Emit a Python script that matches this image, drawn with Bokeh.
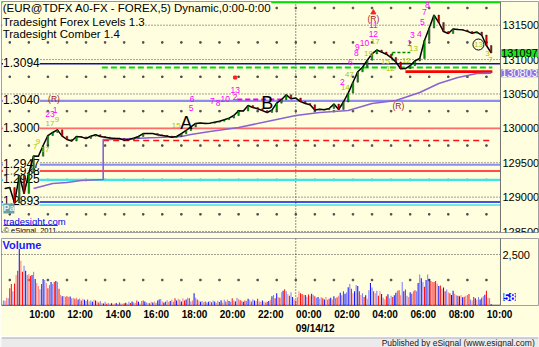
import numpy as np
from bokeh.plotting import figure
from bokeh.layouts import column
from bokeh.models import Range1d, FixedTicker, Span, Label, LinearAxis, CustomJSTickFormatter
from bokeh.embed import file_html
from bokeh.resources import INLINE
from bokeh.core.properties import value

BG = "#ffffe0"
FONT = "Liberation Sans"

# ---------------- axes (hours since 09/13/12 00:00; 24 = 09/14/12 00:00) ----------------
x_start = 8.567          # left edge of the chart panels
x_panel_end = 34.735     # right edge of the chart panels (price scale starts here)
x_view_end = 36.73       # right edge of the window
price_lo, price_hi = 1.284858, 1.318446
volume_hi = 3285
price_grid_levels = [1.285, 1.290, 1.295, 1.300, 1.305, 1.310, 1.315]
price_dot_levels = [1.2875, 1.2925, 1.2975, 1.3025, 1.3075, 1.3125, 1.3175]
volume_grid_levels = [2500]
volume_dot_levels = [1250]
dot_hours = list(range(9, 35))
hour_ticks = [10, 12, 14, 16, 18, 20, 22, 24, 26, 28, 30, 32, 34]
date_tick_hour = 24
date_text = "09/14/12"

# ---------------- price: 15-minute closes, 08:45 (09/13) .. 10:15 (09/14) ----------------
price_first_hour = 8.75
price_close = [
    1.29126, 1.29140, 1.28915, 1.29315, 1.29053, 1.29351, 1.29598, 1.29595,
    1.29751, 1.29896, 1.29940, 1.29978, 1.29887, 1.29838, 1.29816, 1.29882,
    1.29876, 1.29853, 1.29886, 1.29908, 1.29882, 1.29871, 1.29861, 1.29853,
    1.29853, 1.29829, 1.29838, 1.29857, 1.29882, 1.29925, 1.29925, 1.29925,
    1.29906, 1.29896, 1.29887, 1.29870, 1.29882, 1.29922, 1.29969, 1.30021,
    1.30071, 1.30078, 1.30071, 1.30076, 1.30090, 1.30104, 1.30126, 1.30149,
    1.30187, 1.30257, 1.30252, 1.30332, 1.30302, 1.30286, 1.30258, 1.30231,
    1.30266, 1.30366, 1.30417, 1.30488, 1.30431, 1.30441, 1.30389, 1.30361,
    1.30343, 1.30266, 1.30279, 1.30270, 1.30289, 1.30353, 1.30274, 1.30383,
    1.30513, 1.30671, 1.30822, 1.30888, 1.30991, 1.31083, 1.31139, 1.31109,
    1.31078, 1.31030, 1.30965, 1.30866, 1.30870, 1.30911, 1.30981, 1.31016,
    1.31277, 1.31459, 1.31647, 1.31539, 1.31408, 1.31379, 1.31445, 1.31437,
    1.31432, 1.31410, 1.31384, 1.31400, 1.31357, 1.31205, 1.31097,
]

# ---------------- purple (VWAP style) line ----------------
purple_hours = [10.25, 11.25, 12.0, 12.75, 13.9, 13.9, 14.25, 15.5, 16.75, 18.0, 18.5, 19.5,
                21.0, 22.75, 24.0, 25.25, 26.75, 28.0, 29.25, 30.5, 31.5, 32.5, 33.5, 34.25]
purple_values = [1.29126, 1.29199, 1.29213, 1.29242, 1.29257, 1.29838, 1.29838, 1.29853,
                 1.29867, 1.29882, 1.29911, 1.29954, 1.30013, 1.30114, 1.30187, 1.30231,
                 1.30260, 1.30362, 1.30405, 1.30521, 1.30652, 1.30739, 1.30797, 1.30803]

# ---------------- volume: 5-minute bars from 08:40 (09/13) ----------------
volume_first_hour = 8 + 40 / 60
volume_rows = [
    [250, 230, 380, 350, 850, 1050, 700, 1080, 1500, 1700],
    [2770, 2200, 1650, 1950, 1700, 1500, 1550, 1450, 1500, 1650, 1300, 1100],
    [950, 800, 1050, 1300, 1250, 1100, 850, 1000, 1150, 1050, 1150, 1200],
    [1150, 820, 520, 450, 470, 430, 450, 420, 440, 350, 380, 330],
    [380, 300, 340, 250, 330, 280, 220, 300, 200, 250, 180, 280],
    [250, 200, 150, 220, 120, 100, 180, 90, 120, 80, 110, 100],
    [90, 120, 70, 150, 100, 80, 110, 140, 90, 180, 120],
    [200, 150, 120, 240, 180, 100, 220, 250, 190, 150, 130, 110],
    [180, 150, 200, 130, 250, 300, 320, 200, 150, 180, 260, 170],
    [220, 300, 180, 350, 240, 330, 280, 200, 350, 250, 300, 380],
    [350, 200, 250, 600, 380, 300, 250, 180, 220, 160, 200, 150],
    [180, 220, 160, 250, 200, 140, 230, 170, 260, 150, 280, 200],
    [300, 220, 180, 350, 250, 200, 380, 320, 260, 230, 180],
    [250, 220, 330, 280, 200, 300, 250, 220, 330, 200, 180, 250],
    [200, 150, 180, 220, 280, 450, 520, 350, 600, 420, 380, 650],
    [720, 800, 700, 550, 480, 650, 420, 300, 250, 400, 700, 600],
    [560, 500, 520, 430, 540, 480, 580, 520, 450, 380, 420, 330],
    [400, 350, 300, 420, 280, 330, 380, 300, 450, 350, 400, 480],
    [620, 500, 700, 580, 650, 900, 1050, 820, 600, 700, 1000],
    [950, 700, 520, 600, 420, 500, 330, 750, 1100, 880, 700, 600],
    [720, 480, 700, 560, 380, 300, 450, 550, 350, 480, 420, 500],
    [620, 720, 750, 500, 1150, 700, 780, 480, 420, 650, 580, 700],
    [750, 700, 1100, 1520, 1330, 1150, 920, 1250, 1520, 1300, 1200, 1150],
    [1150, 1200, 1080, 950, 980, 820, 880, 700, 780, 650, 600, 520],
    [720, 580, 500, 480, 450, 520, 400, 430, 480, 520, 560],
    [300, 250, 420, 350, 280, 420, 300, 380, 450, 530, 720, 380],
    [350, 58],
]
# B = up (dark blue), b = up (light blue), R = down (red), r = down (light red)
volume_dir_rows = [
    "bbrbRRbRrR", "BrRbBbrRBbBr", "rbRBbrRbBbRB", "bRrBrbRrBbrR", "rBbRrBbRrbBr",
    "BrRbrBbRbrBr", "rBbRbrRBrbR", "BbrRBrbRBbrR", "rBrbRBbrBRbr", "BrbRBrbBrRBb",
    "RbrBbRrBbrRb", "BrRbBrbRBrbR", "rBbRrBbrRbB", "RbBrRbBrRbrB", "rbRBrBbRBrRr",
    "BRbrRbBrRbrR", "RrBbRrBbRbBr", "bRBrbRBrBbRr", "BbRBbBbRrBb", "BRrbRBrbBbRr",
    "bRrBbrRBrbRB", "BbRrbBRbrBRb", "RbBbBbRBbBRr", "RRrBRrBRbrRB", "BrbRBrBRrbR",
    "brRBrbBRbBRr", "bB",
]

# ---------------- Tradesight levels ----------------
full_levels = [1.31834, 1.3094, 1.3040, 1.3000, 1.2947, 1.2938, 1.2925, 1.2893, 1.28886]
full_colors = ["#00e000", "#10109a", "#8c8cf0", "#ff6a6a", "#8c8cf0", "#ff1010",
               "#40e4e4", "#1010e0", "#40e4e4"]
full_widths = [2, 1.5, 2.2, 1.6, 2, 1.4, 2.2, 1.6, 1.6]

seg_levels = [1.30885, 1.29823, 1.30824, 1.30420]
seg_from = [13.83, 13.9, 29.75, 20.93]
seg_to = [34.31, 34.31, 34.31, 23.29]
seg_colors = ["#00dd00", "#ff1010", "#ff0000", "#ee00ee"]
seg_widths = [2, 1.5, 2.8, 2]
seg_dashes = ["6 3", "6 4", "solid", "5 3"]

level_label_text = ["1.3094", "1.3040", "1.3000", "1.2938", "1.2947", "1.2925", "1.2893"]
level_label_price = [1.3094, 1.3040, 1.3000, 1.2938, 1.2947, 1.2925, 1.2893]

header_text = ["(EUR@TDFX A0-FX - FOREX,5) Dynamic,0:00-0:00",
               "Tradesight Forex Levels 1.3", "Tradesight Comber 1.4"]
header_price = [1.31750, 1.31546, 1.31365]

# ---------------- Comber annotations ----------------
mag_text = ["23", "1", "5", "6", "7", "8", "10", "13", "2", "2", "6", "8", "9", "10", "12",
            "11", "1", "3", "4", "5", "7", "8"]
mag_hour = [11.11, 11.38, 18.51, 18.57, 19.62, 19.93, 20.30, 20.82, 20.82, 26.44, 26.86,
            27.18, 27.23, 27.60, 28.07, 28.07, 29.96, 30.12, 30.48, 30.64, 30.75, 30.90]
mag_price = [1.30202, 1.30260, 1.30289, 1.30420, 1.30391, 1.30362, 1.30420, 1.30565,
             1.30463, 1.30667, 1.30958, 1.31089, 1.31176, 1.31234, 1.31374, 1.31496,
             1.31234, 1.31354, 1.31374, 1.31540, 1.31685, 1.31787]

yg_text = ["17", "9", "7", "9", "17", "15", "47", "14", "19", "17", "15", "12", "12", "13",
           "13", "3", "7"]
yg_hour = [11.11, 11.48, 10.33, 10.48, 10.85, 17.73, 26.81, 26.60, 27.81, 28.17, 28.70,
           28.96, 29.80, 30.17, 33.58, 34.05, 34.21]
yg_price = [1.30071, 1.30129, 1.29736, 1.29809, 1.29693, 1.30042, 1.30783, 1.30594,
            1.31089, 1.31263, 1.30972, 1.30871, 1.30987, 1.31161, 1.31219, 1.31089, 1.31001]

r_text = ["(R)", "(R)", "(R)"]
r_hour = [11.32, 28.07, 29.38]
r_price = [1.30434, 1.31597, 1.30318]

pattern_text = ["A", "B"]
pattern_hour = [18.25, 22.50]
pattern_price = [1.30078, 1.30376]

circle_hour, circle_price = [33.58], [1.31219]
triangle_hour, triangle_price = [28.07], [1.31685]
dot_mark_hour, dot_mark_price = [20.82], [1.30739]

box_x0 = [29.07, 29.07]
box_x1 = [30.01, 29.07]
box_y0 = [1.31103, 1.31103]
box_y1 = [1.31103, 1.30987]


def style_value_axis(ax):
    ax.fixed_location = x_panel_end
    ax.axis_line_color = None
    ax.major_tick_out = 0
    ax.major_tick_in = 0
    ax.minor_tick_out = 0
    ax.minor_tick_in = 0
    ax.major_label_standoff = 2
    ax.major_label_text_font = FONT
    ax.major_label_text_font_size = "11px"
    ax.major_label_text_color = "black"


# ======================================================================
price = figure(width=539, height=238, min_border_left=1, min_border_right=1,
               min_border_top=1, min_border_bottom=6,
               x_range=Range1d(x_start, x_view_end), y_range=Range1d(price_lo, price_hi),
               x_axis_location=None, y_axis_location="right",
               toolbar_location=None, output_backend="svg",
               background_fill_color=BG, border_fill_color=BG)
price.outline_line_color = "#a0a0a0"
price.grid.visible = False
price.yaxis.ticker = FixedTicker(ticks=price_grid_levels)
price.yaxis.formatter = CustomJSTickFormatter(code="return (tick*100000).toFixed(0);")
style_value_axis(price.yaxis[0])

# dotted grid lines (at the scale's ticks) limited to the chart panel
price.segment(x0=[x_start] * len(price_grid_levels), x1=[x_panel_end] * len(price_grid_levels),
              y0=price_grid_levels, y1=price_grid_levels, line_color="#404040",
              line_dash="1 2", line_width=1)
dx, dy = np.meshgrid(dot_hours, price_dot_levels)
price.scatter(dx.ravel(), dy.ravel(), marker="square", size=1.5, color="#505050")
price.add_layout(Span(location=date_tick_hour, dimension="height", line_color="#202020",
                      line_dash="1 2", line_width=1, level="underlay"))
price.add_layout(Span(location=x_panel_end, dimension="height", line_color="#707070",
                      line_width=1))

# full-width level lines
for lv, c, w in zip(full_levels, full_colors, full_widths):
    price.segment(x0=[x_start], x1=[x_panel_end], y0=[lv], y1=[lv], line_color=c, line_width=w)
for lv, a, b, c, w, d in zip(seg_levels, seg_from, seg_to, seg_colors, seg_widths, seg_dashes):
    price.segment(x0=[a], x1=[b], y0=[lv], y1=[lv], line_color=c, line_width=w, line_dash=d)
price.segment(x0=box_x0, x1=box_x1, y0=box_y0, y1=box_y1, line_color="#008800",
              line_width=1.5, line_dash="3 2")

# level labels and header texts (with background that hides grid lines)
price.text(x=[x_start + 0.08] * len(level_label_text), y=level_label_price,
           text=level_label_text, text_font=value(FONT), text_font_size="12px",
           text_align="left", text_baseline="alphabetic", y_offset=-1,
           text_color="black", background_fill_color=BG)
price.text(x=[x_start + 0.06] * len(header_text), y=header_price, text=header_text,
           text_font=value(FONT), text_font_size="11.5px", text_align="left",
           text_baseline="middle", text_color="black", background_fill_color=BG)

price.text(x=[x_start + 0.1], y=[1.28646], text=["tradesight.com"], text_font=value(FONT),
           text_font_size="9.5px", text_align="left", text_baseline="middle",
           text_color="#0000ee", background_fill_color=BG)
price.segment(x0=[x_start + 0.1], x1=[x_start + 2.95], y0=[1.28590], y1=[1.28590],
              line_color="#0000ee", line_width=1)
price.text(x=[x_start + 0.1], y=[1.28516], text=["\u00a9 eSignal, 2011"], text_font=value(FONT),
           text_font_size="7.5px", text_align="left", text_baseline="middle",
           text_color="black", background_fill_color=BG)

# purple line
price.line(purple_hours, purple_values, line_color="#8a63d2", line_width=1.6)

# price: line + small bodies
ph = price_first_hour + 0.25 * np.arange(len(price_close))
pc = np.array(price_close)
po = np.concatenate([[pc[0]], pc[:-1]])
body_col = np.where(pc >= po, "#00b000", "#e00000")
price.line(ph, pc, line_color="black", line_width=1.5)
price.vbar(x=ph, top=np.maximum(po, pc), bottom=np.minimum(po, pc), width=0.08,
           fill_color=list(body_col), line_color="black", line_width=0.4)

price.text(x=[x_start + 0.1], y=[1.28835], text=["Pa"], text_font=value(FONT),
           text_font_size="9px", text_font_style="bold", text_align="left",
           text_baseline="middle", text_color="#e8f4f4", background_fill_color="#6f9f9f")

# annotations
price.text(x=mag_hour, y=mag_price, text=mag_text, text_font=value(FONT), text_font_size="8.5px",
           text_align="center", text_baseline="middle", text_color="#ff00ff")
price.text(x=yg_hour, y=yg_price, text=yg_text, text_font=value(FONT), text_font_size="8px",
           text_align="center", text_baseline="middle", text_color="#a8c400")
price.text(x=r_hour, y=r_price, text=r_text, text_font=value(FONT), text_font_size="8.5px",
           text_align="center", text_baseline="middle", text_color="#a01818")
price.text(x=pattern_hour, y=pattern_price, text=pattern_text, text_font=value(FONT),
           text_font_size="18px", text_align="center", text_baseline="middle",
           text_color="black")
price.scatter(circle_hour, circle_price, marker="circle", size=11, fill_color=None,
              line_color="black", line_width=1)
price.scatter(triangle_hour, triangle_price, marker="triangle", size=5, color="#ff2020")
price.scatter(dot_mark_hour, dot_mark_price, marker="square", size=3, color="#ff2020")

# current price / purple value boxes on the price scale
axis_box_hour = x_panel_end + 0.04
price.add_layout(Label(x=axis_box_hour, y=price_close[-1], text=f"{price_close[-1]*100000:.0f}",
                       text_font=FONT, text_font_size="11px", text_align="left",
                       text_baseline="middle", text_color="black",
                       background_fill_color="#22e022"))
price.add_layout(Label(x=axis_box_hour, y=purple_values[-1], text=f"{purple_values[-1]*100000:.0f}",
                       text_font=FONT, text_font_size="11px", text_align="left",
                       text_baseline="middle", text_color="white",
                       background_fill_color="#9370db"))

# ======================================================================
vol = figure(width=539, height=98, min_border_left=1, min_border_right=1,
             min_border_top=0, min_border_bottom=29,
             x_range=price.x_range, y_range=Range1d(0, volume_hi),
             y_axis_location="right", toolbar_location=None, output_backend="svg",
             background_fill_color=BG, border_fill_color=BG)
vol.outline_line_color = "#a0a0a0"
vol.grid.visible = False
vol.yaxis.ticker = FixedTicker(ticks=volume_grid_levels)
vol.yaxis.major_label_overrides = {2500: "2,500"}
style_value_axis(vol.yaxis[0])

vol.segment(x0=[x_start] * len(volume_grid_levels), x1=[x_panel_end] * len(volume_grid_levels),
            y0=volume_grid_levels, y1=volume_grid_levels, line_color="#404040",
            line_dash="1 2", line_width=1)
vol.segment(x0=[x_start], x1=[x_panel_end], y0=[0], y1=[0], line_color="#303030", line_width=1.5)

label_shift = 0.6875  # labels start at their hour
xa = vol.xaxis[0]
xa.ticker = FixedTicker(ticks=[h + label_shift for h in hour_ticks])
xa.formatter = CustomJSTickFormatter(
    code="const h = Math.round(tick - 0.6875) % 24; return String(h).padStart(2,'0') + ':00';")
xa.axis_line_color = None
xa.major_tick_out = 0
xa.major_tick_in = 0
xa.minor_tick_out = 0
xa.minor_tick_in = 0
xa.major_label_standoff = 3
xa.major_label_text_font = FONT
xa.major_label_text_font_size = "10px"
xa.major_label_text_font_style = "bold"
xa.major_label_text_color = "black"

xa2 = LinearAxis(ticker=FixedTicker(ticks=[date_tick_hour + 1.02]),
                 formatter=CustomJSTickFormatter(code=f"return '{date_text}';"))
xa2.axis_line_color = None
xa2.major_tick_out = 0
xa2.major_tick_in = 0
xa2.minor_tick_out = 0
xa2.minor_tick_in = 0
xa2.major_label_standoff = 0
xa2.major_label_text_font = FONT
xa2.major_label_text_font_size = "10px"
xa2.major_label_text_font_style = "bold"
xa2.major_label_text_color = "black"
vol.add_layout(xa2, "below")

vdx, vdy = np.meshgrid(dot_hours, volume_dot_levels)
vol.scatter(vdx.ravel(), vdy.ravel(), marker="square", size=1.5, color="#505050")
vol.add_layout(Span(location=date_tick_hour, dimension="height", line_color="#202020",
                    line_dash="1 2", line_width=1, level="underlay"))
vol.add_layout(Span(location=x_panel_end, dimension="height", line_color="#707070",
                    line_width=1))

volume = [v for row in volume_rows for v in row]
vdir = "".join(volume_dir_rows)
cmap = {"B": "#1010ff", "b": "#8080ff", "R": "#ff1010", "r": "#ff8080"}
vcol = [cmap[c] for c in vdir]
vh = volume_first_hour + np.arange(len(volume)) / 12.0
vol.vbar(x=vh, top=volume, bottom=0, width=0.055, fill_color=vcol, line_color=None)

vol.text(x=[x_start + 0.05], y=[2960], text=["Volume"], text_font=value(FONT),
         text_font_size="11px", text_font_style="bold", text_align="left",
         text_baseline="middle", text_color="#1a1aff")
# last-volume box on the volume scale
vol.text(x=[x_panel_end + 0.16], y=[420], text=[f"{volume[-1]}"], text_font=value(FONT),
         text_font_size="11px", text_font_style="bold", text_align="left",
         text_baseline="middle", text_color="white",
         background_fill_color="#0000ff")

# ======================================================================
foot = figure(width=539, height=11, min_border=0,
              x_range=Range1d(0, 1), y_range=Range1d(0, 1),
              x_axis_location=None, y_axis_location=None,
              toolbar_location=None, output_backend="svg",
              background_fill_color="#ebebeb", border_fill_color="#ebebeb")
foot.outline_line_color = None
foot.grid.visible = False
foot.segment(x0=[0], x1=[1], y0=[0.97], y1=[0.97], line_color="#909090", line_width=1)
foot.text(x=[0.993], y=[0.5], text=["Published by eSignal (www.esignal.com)"],
          text_font=value(FONT), text_font_size="8.5px", text_align="right",
          text_baseline="middle", text_color="#202020")

layout = column(price, vol, foot, spacing=0)
open("out.html", "w").write(file_html(layout, INLINE))
